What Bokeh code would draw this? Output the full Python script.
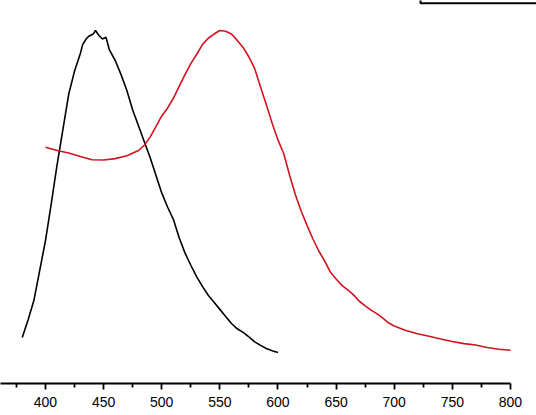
from bokeh.plotting import figure
from bokeh.models import FixedTicker, Range1d, BoxAnnotation
from bokeh.embed import file_html
from bokeh.resources import INLINE

# Black spectrum (wavelength nm, normalised intensity)
black_x = [380, 385, 390, 395, 400, 405, 410, 415, 420, 425, 430, 432, 435, 437, 441,
           443, 446, 449, 452, 455, 460, 465, 470, 475, 480, 485, 490, 495, 500, 505,
           510, 515, 520, 525, 530, 535, 540, 545, 550, 555, 560, 565, 570, 575, 580,
           585, 590, 595, 600]
black_y = [0.13, 0.18, 0.235, 0.32, 0.405, 0.51, 0.62, 0.72, 0.82, 0.885, 0.935, 0.96,
           0.976, 0.983, 0.99, 1.0, 0.986, 0.976, 0.981, 0.945, 0.915, 0.875, 0.83,
           0.775, 0.73, 0.685, 0.64, 0.59, 0.54, 0.50, 0.465, 0.413, 0.37, 0.335, 0.303,
           0.275, 0.25, 0.23, 0.21, 0.19, 0.17, 0.155, 0.145, 0.132, 0.118, 0.108, 0.099,
           0.093, 0.088]

# Red spectrum
red_x = [400, 410, 420, 430, 440, 450, 460, 470, 480, 485, 490, 495, 500, 505, 510, 515,
         520, 525, 530, 535, 540, 545, 550, 555, 560, 565, 570, 575, 580, 585, 590, 595,
         600, 605, 610, 615, 620, 625, 630, 635, 640, 645, 650, 655, 660, 665, 670, 675,
         680, 685, 690, 695, 700, 710, 720, 730, 740, 750, 760, 770, 780, 790, 800]
red_y = [0.669, 0.66, 0.653, 0.643, 0.634, 0.633, 0.637, 0.645, 0.66, 0.675, 0.698, 0.728,
         0.758, 0.78, 0.808, 0.842, 0.875, 0.906, 0.932, 0.96, 0.978, 0.99, 1.0, 0.998,
         0.99, 0.972, 0.952, 0.925, 0.892, 0.84, 0.79, 0.737, 0.69, 0.651, 0.59, 0.535,
         0.488, 0.448, 0.41, 0.376, 0.348, 0.316, 0.296, 0.278, 0.265, 0.251, 0.233, 0.22,
         0.208, 0.198, 0.186, 0.172, 0.163, 0.15, 0.141, 0.134, 0.126, 0.119, 0.113, 0.109,
         0.102, 0.097, 0.094]

major_ticks = [400, 450, 500, 550, 600, 650, 700, 750, 800]
minor_ticks = [375, 425, 475, 525, 575, 625, 675, 725, 775]

p = figure(width=536, height=415, output_backend="svg", toolbar_location=None,
           x_range=Range1d(361.3, 822.4), y_range=Range1d(0, 1.085),
           min_border_left=0, min_border_right=0, min_border_top=0, min_border_bottom=32)
p.outline_line_color = None
p.grid.visible = False
p.yaxis.visible = False
p.background_fill_color = "white"
p.border_fill_color = "white"

ax = p.xaxis[0]
ax.bounds = (361.3, 800)
ax.ticker = FixedTicker(ticks=major_ticks, minor_ticks=minor_ticks)
ax.axis_line_color = "black"
ax.axis_line_width = 1.8
ax.major_tick_line_color = "black"
ax.major_tick_line_width = 1.8
ax.minor_tick_line_color = "black"
ax.minor_tick_line_width = 1.8
ax.major_tick_in = 0
ax.major_tick_out = 6
ax.minor_tick_in = 0
ax.minor_tick_out = 4
ax.major_label_text_font = "Liberation Sans"
ax.major_label_text_font_size = "14px"
ax.major_label_text_color = "black"
ax.major_label_standoff = 7

p.line(black_x, black_y, line_color="black", line_width=1.6)
p.line(red_x, red_y, line_color="#d0141e", line_width=1.6)

# Partially visible legend frame at top right
p.add_layout(BoxAnnotation(left=722.6, right=900, bottom=1.077, top=1.3,
                           fill_alpha=0, line_color="black", line_alpha=1.0,
                           line_width=2))

open("out.html", "w").write(file_html(p, INLINE))
